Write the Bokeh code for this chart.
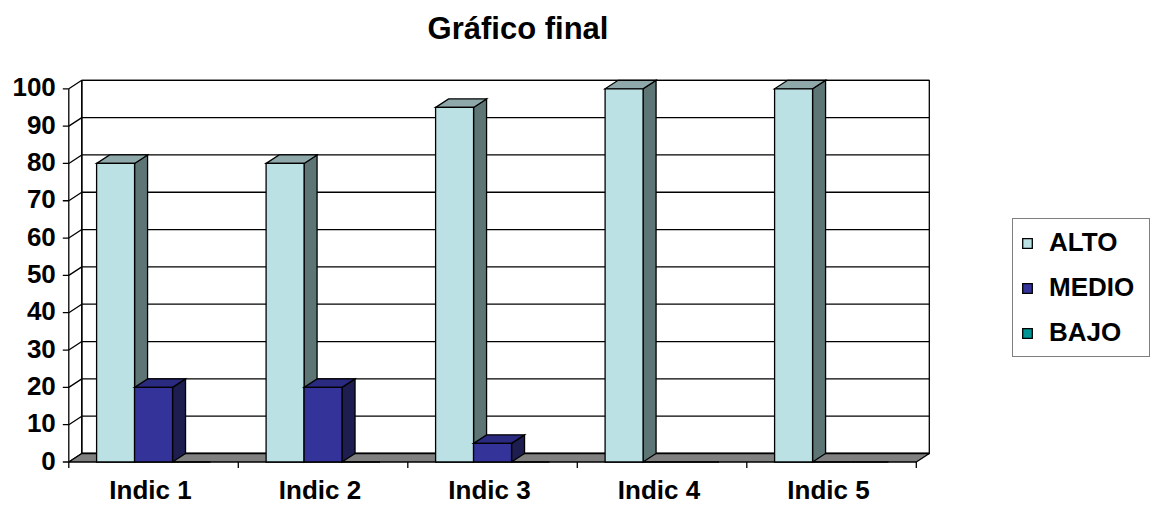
from bokeh.plotting import figure
from bokeh.models import Range1d, Legend, LegendItem, Label
from bokeh.core.properties import value
from bokeh.embed import file_html
from bokeh.resources import INLINE

# ---------------- data ----------------
categories = ["Indic 1", "Indic 2", "Indic 3", "Indic 4", "Indic 5"]
series_names = ["ALTO", "MEDIO", "BAJO"]
alto = [80, 80, 95, 100, 100]
medio = [20, 20, 5, 0, 0]
bajo = [0, 0, 0, 0, 0]
y_ticks = [0, 10, 20, 30, 40, 50, 60, 70, 80, 90, 100]
title_text = "Gráfico final"

# ---------------- style / geometry ----------------
W, H = 1151, 506
PX_X, PX_Y = 169.5, 3.732          # pixels per category / per value unit
OX, OY = 68.3, 461.5               # canvas position of the front origin
DX, DY = 13 / PX_X, 8.5 / PX_Y     # 3-D depth offset in data units
BAR_W, GROUP_OFF = 0.224, 0.164
FONT = "Liberation Sans"
LW = 1.3

front_cols = ["#BCE1E4", "#333399", "#009595"]
side_cols = ["#5E7575", "#1D1D4F", "#005050"]
top_cols = ["#8FA9AB", "#2A2A80", "#007777"]

x_start = -OX / PX_X
y_start = -(H - OY) / PX_Y
p = figure(width=W, height=H,
           x_range=Range1d(x_start, x_start + W / PX_X),
           y_range=Range1d(y_start, y_start + H / PX_Y),
           x_axis_location=None, y_axis_location=None,
           min_border=0, toolbar_location=None, output_backend="svg")
p.outline_line_color = None
p.grid.visible = False
p.background_fill_color = "white"
p.border_fill_color = "white"

n = len(categories)
ymax = max(y_ticks)

# back wall
p.quad(left=DX, right=n + DX, bottom=DY, top=ymax + DY,
       fill_color="white", line_color="black", line_width=LW)
# gridlines on back wall
p.segment(x0=[DX] * len(y_ticks), y0=[t + DY for t in y_ticks],
          x1=[n + DX] * len(y_ticks), y1=[t + DY for t in y_ticks],
          line_color="black", line_width=LW)
# side wall diagonals
p.segment(x0=[0] * len(y_ticks), y0=y_ticks,
          x1=[DX] * len(y_ticks), y1=[t + DY for t in y_ticks],
          line_color="black", line_width=LW)
# side wall verticals
p.segment(x0=[0, DX], y0=[0, DY], x1=[0, DX], y1=[ymax, ymax + DY],
          line_color="black", line_width=LW)
# floor
p.patch(x=[0, n, n + DX, DX], y=[0, 0, DY, DY],
        fill_color="#808080", line_color="black", line_width=LW)
# y ticks
p.segment(x0=[-6 / PX_X] * len(y_ticks), y0=y_ticks,
          x1=[0] * len(y_ticks), y1=y_ticks, line_color="black", line_width=LW)
# x ticks
p.segment(x0=list(range(n + 1)), y0=[0] * (n + 1),
          x1=list(range(n + 1)), y1=[-6 / PX_Y] * (n + 1),
          line_color="black", line_width=LW)

# bars
front_renderers = []
for s, vals in enumerate([alto, medio, bajo]):
    lefts = [i + GROUP_OFF + s * BAR_W for i in range(n)]
    rights = [l + BAR_W for l in lefts]
    sx, sy, tx, ty = [], [], [], []
    for l, r, v in zip(lefts, rights, vals):
        if v > 0:
            sx.append([r, r + DX, r + DX, r])
            sy.append([0, DY, v + DY, v])
            tx.append([l, r, r + DX, l + DX])
            ty.append([v, v, v + DY, v + DY])
    if sx:
        p.patches(xs=sx, ys=sy, fill_color=side_cols[s], line_color="black",
                  line_width=LW, line_join="miter")
        p.patches(xs=tx, ys=ty, fill_color=top_cols[s], line_color="black",
                  line_width=LW, line_join="miter")
    r_front = p.vbar(x=[(l + r) / 2 for l, r in zip(lefts, rights)], width=BAR_W,
                     top=vals, bottom=0, fill_color=front_cols[s],
                     line_color="black", line_width=LW, line_join="miter")
    front_renderers.append(r_front)

# tick labels
p.text(x=[0] * len(y_ticks), y=y_ticks, text=[str(t) for t in y_ticks],
       x_offset=-13, y_offset=-1.5, text_align="right", text_baseline="middle",
       text_font=value(FONT), text_font_style="bold", text_font_size="26px",
       text_color="black")
# category labels
p.text(x=[i + 0.5 for i in range(n)], y=[0] * n, text=categories,
       x_offset=-3, y_offset=28, text_align="center", text_baseline="middle",
       text_font=value(FONT), text_font_style="bold", text_font_size="26px",
       text_color="black")

# title
p.add_layout(Label(x=517.5, y=H - 27.5, x_units="screen", y_units="screen",
                   text=title_text, text_align="center", text_baseline="middle",
                   text_font=FONT, text_font_style="bold", text_font_size="31px",
                   text_color="black"))

# legend (location = bottom-left corner, measured from the bottom)
legend = Legend(items=[LegendItem(label=nm, renderers=[r])
                       for nm, r in zip(series_names, front_renderers)],
                location=(1012, H - 357), margin=0, padding=8, spacing=14,
                glyph_width=12, glyph_height=12, label_standoff=16,
                label_width=92, label_height=24,
                label_text_font=FONT, label_text_font_style="bold",
                label_text_font_size="26px", label_text_color="black",
                border_line_color="black", border_line_width=LW,
                background_fill_color="white", background_fill_alpha=1.0)
p.add_layout(legend)

open("out.html", "w").write(file_html(p, INLINE))
